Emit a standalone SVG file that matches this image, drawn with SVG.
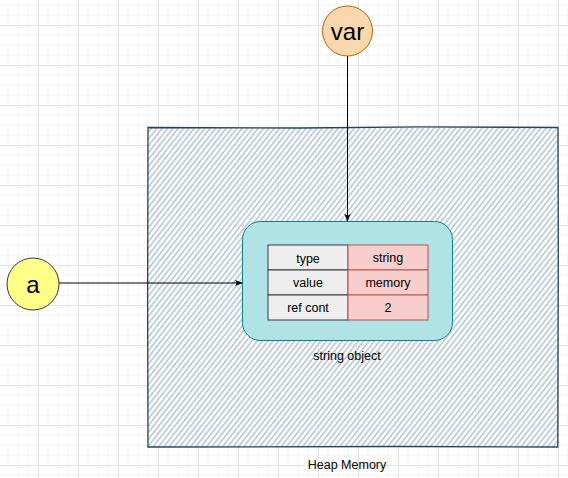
<svg xmlns="http://www.w3.org/2000/svg" width="568" height="478" viewBox="0 0 568 478">
<defs>
<pattern id="grid" x="-2" y="25" width="40" height="40" patternUnits="userSpaceOnUse">
<path d="M10 0V40M20 0V40M30 0V40M0 10H40M0 20H40M0 30H40" stroke="#f3f3f3" stroke-width="1" fill="none"/>
<path d="M0.5 0V40M0 0.5H40" stroke="#e2e2e2" stroke-width="1" fill="none"/>
</pattern>
<pattern id="hatch" width="4.2" height="4.2" patternUnits="userSpaceOnUse" patternTransform="rotate(38)">
<line x1="1" y1="0" x2="1" y2="4.2" stroke="#bac9d6" stroke-width="1.7"/>
</pattern>
<marker id="arr" viewBox="0 0 10 10" refX="9" refY="5" markerWidth="8" markerHeight="8" orient="auto" markerUnits="userSpaceOnUse">
<path d="M0 1L10 5L0 9L2.5 5Z" fill="#000"/>
</marker>
<style>
.t{font-family:"Liberation Sans",Arial,sans-serif;font-size:12.5px;fill:#000;text-anchor:middle;dominant-baseline:central}
.big{font-family:"Liberation Sans",Arial,sans-serif;font-size:24px;fill:#000;text-anchor:middle;dominant-baseline:central}
.lc{fill:#eeeeee;stroke:#36393d;stroke-width:1}
.rc{fill:#f8cecc;stroke:#b85450;stroke-width:1}
.edge{stroke:#000;stroke-width:1;fill:none;marker-end:url(#arr)}
</style>
</defs>
<rect width="568" height="478" fill="#fff"/>
<rect width="568" height="478" fill="url(#grid)"/>
<g id="heap">
<rect x="148" y="127.5" width="410" height="319.5" fill="#fff" fill-opacity="0.6"/>
<rect x="148" y="127.5" width="410" height="319.5" fill="url(#hatch)"/>
<path d="M148 127.5 L300 128 L420 126.8 L558 127.5 L558.3 250 L557.8 447 L400 446.5 L148 447 L147.6 300 Z" fill="none" stroke="#23445d" stroke-width="1.3"/>
<text class="t" x="347" y="465">Heap Memory</text>
</g>
<g id="string-object">
<rect x="242.5" y="221.5" width="210" height="119" rx="18" ry="18" fill="#b0e3e6" stroke="#0e8088" stroke-width="1"/>
<text class="t" x="347" y="356">string object</text>
</g>
<g id="table">
<rect class="lc" x="268" y="245" width="80" height="25"/>
<rect class="rc" x="348" y="245" width="80" height="25"/>
<rect class="lc" x="268" y="270" width="80" height="25"/>
<rect class="rc" x="348" y="270" width="80" height="25"/>
<rect class="lc" x="268" y="295" width="80" height="25"/>
<rect class="rc" x="348" y="295" width="80" height="25"/>
<text class="t" x="308" y="259">type</text>
<text class="t" x="388" y="258">string</text>
<text class="t" x="308" y="282.5">value</text>
<text class="t" x="388" y="283">memory</text>
<text class="t" x="308" y="307.5">ref cont</text>
<text class="t" x="388" y="307.5">2</text>
</g>
<g id="var">
<circle cx="347.5" cy="31" r="25" fill="#fad7ac" stroke="#b46504" stroke-width="1"/>
<text class="big" x="347.5" y="31">var</text>
</g>
<g id="a">
<circle cx="33" cy="284" r="26" fill="#ffff88" stroke="#36393d" stroke-width="1"/>
<text class="big" x="33" y="284">a</text>
</g>
<g id="connectors">
<path class="edge" d="M347.5 56 V221"/>
<path class="edge" d="M59 283 H242"/>
</g>
</svg>
